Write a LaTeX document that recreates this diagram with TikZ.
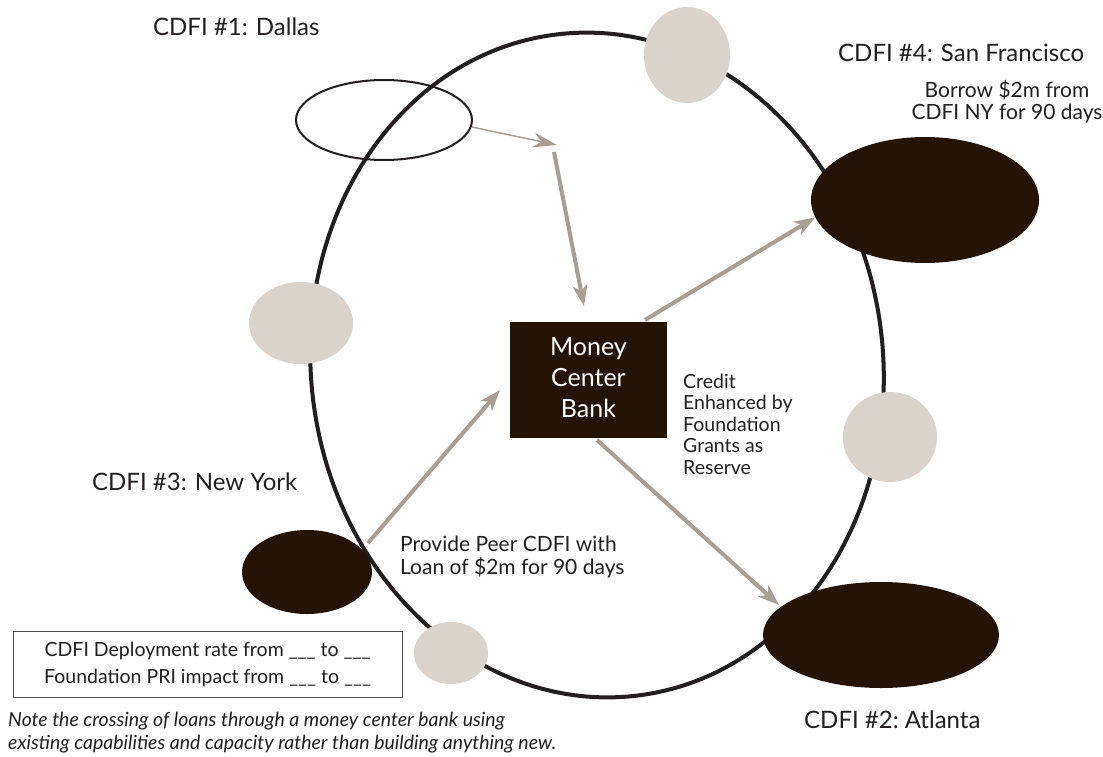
\documentclass[tikz,border=0pt]{standalone}
\usepackage{fontspec}
\setmainfont{Lato}
\usetikzlibrary{shapes.geometric,arrows.meta}
\definecolor{darkb}{HTML}{241407}
\definecolor{lgrey}{HTML}{D9D3CC}
\definecolor{arrc}{HTML}{A89F94}
\definecolor{inkc}{HTML}{231F20}
\begin{document}
\begin{tikzpicture}[x=1pt,y=-1pt,
  blob/.style={ellipse, inner sep=0pt, draw=none},
  lightblob/.style={blob, fill=lgrey},
  darkblob/.style={blob, fill=darkb},
  bigarr/.style={draw=arrc, line width=4pt, -{Stealth[length=21pt,width=15pt,inset=6pt]}},
  thinarr/.style={draw=arrc, line width=1.5pt, -{Stealth[length=24pt,width=15pt,inset=8pt]}},
  title/.style={inner sep=0pt, text=inkc, font=\fontsize{24}{28}\selectfont},
  body/.style={inner sep=0pt, text=inkc, font=\fontsize{21}{22.5}\selectfont},
  small/.style={inner sep=0pt, text=inkc, font=\fontsize{19.5}{21.5}\selectfont}]
\useasboundingbox[fill=white] (0,0) rectangle (1103,757);

% big loop
\coordinate (loopc) at (597,365);
\draw[inkc, line width=4pt, rotate around={7:(loopc)}] (loopc) ellipse [x radius=286, y radius=333];

% blobs
\node[lightblob, minimum width=86pt, minimum height=96pt] (g1) at (687,55) {};
\node[lightblob, minimum width=104pt, minimum height=82pt] (g2) at (301,323) {};
\node[lightblob, minimum width=94pt, minimum height=90pt] (g3) at (890,437) {};
\node[lightblob, minimum width=74pt, minimum height=62pt] (g4) at (451,653) {};
\node[darkblob, minimum width=228pt, minimum height=126pt] (sf) at (925,200) {};
\node[darkblob, minimum width=130pt, minimum height=84pt] (ny) at (307,572) {};
\node[darkblob, minimum width=236pt, minimum height=106pt] (atl) at (881,635) {};
\node[ellipse, draw=inkc, line width=2pt, inner sep=0pt, minimum width=176pt, minimum height=80pt] (dal) at (384,120) {};

% bank
\node[fill=darkb, minimum width=157pt, minimum height=116pt, inner sep=0pt] (bank) at (588.5,380) {};
\node[text=white, align=center, inner sep=0pt, anchor=base, font=\fontsize{25}{31}\selectfont] (banktxt) at (588.5,417) {Money\\Center\\Bank};

% titles
\node[title, anchor=base west] (tdal) at (153,36) {CDFI \#1: Dallas};
\node[title, anchor=base west] (tny) at (92,490) {CDFI \#3: New York};
\node[title, anchor=base west] (tsf) at (838,62) {CDFI \#4: San Francisco};
\node[title, anchor=base west] (tatl) at (804,728) {CDFI \#2:\ Atlanta};

% texts (base anchor = last line baseline)
\node[body, anchor=base, align=center] (borrow) at (1007,120) {Borrow \$2m from\\CDFI NY for 90 days};
\node[small, anchor=base west, align=left] (credit) at (683,474) {Credit\\Enhanced by\\Foundation\\Grants as\\Reserve};
\node[body, anchor=base west, align=left] (provide) at (400,574) {Provide Peer CDFI with\\Loan of \$2m for 90 days};

% box
\node[draw=inkc!80, line width=1pt, minimum width=389pt, minimum height=66pt, inner sep=0pt] (rate) at (207.5,664) {};
\node[anchor=base, align=center, inner sep=0pt, text=inkc, font=\fontsize{19.5}{27}\selectfont] (ratetxt) at (207.5,683) {CDFI Deployment rate from \_\_\_ to \_\_\_\\Foundation PRI impact from \_\_\_ to \_\_\_};

% note
\node[anchor=base west, align=left, inner sep=0pt, text=inkc, font=\fontsize{19.5}{23}\itshape] (note) at (8,749) {Note the crossing of loans through a money center bank using\\existing capabilities and capacity rather than building anything new.};

% arrow end points
\coordinate (dalOut) at (472,127);
\coordinate (dalIn) at (557,145);
\coordinate (mid) at (554,152);
\coordinate (bankTop) at (584,306);
\coordinate (bankOut1) at (645,320);
\coordinate (nyOut) at (368,543);
\coordinate (bankIn) at (500,390);
\coordinate (bankOut2) at (597,440);
\coordinate (atlIn) at (779,605);

\draw[thinarr] (dalOut) -- (dalIn);
\draw[bigarr] (mid) -- (bankTop);
\draw[bigarr] (bankOut1) -- (sf.189);
\draw[bigarr] (nyOut) -- (bankIn);
\draw[bigarr] (bankOut2) -- (atlIn);
\end{tikzpicture}
\end{document}
